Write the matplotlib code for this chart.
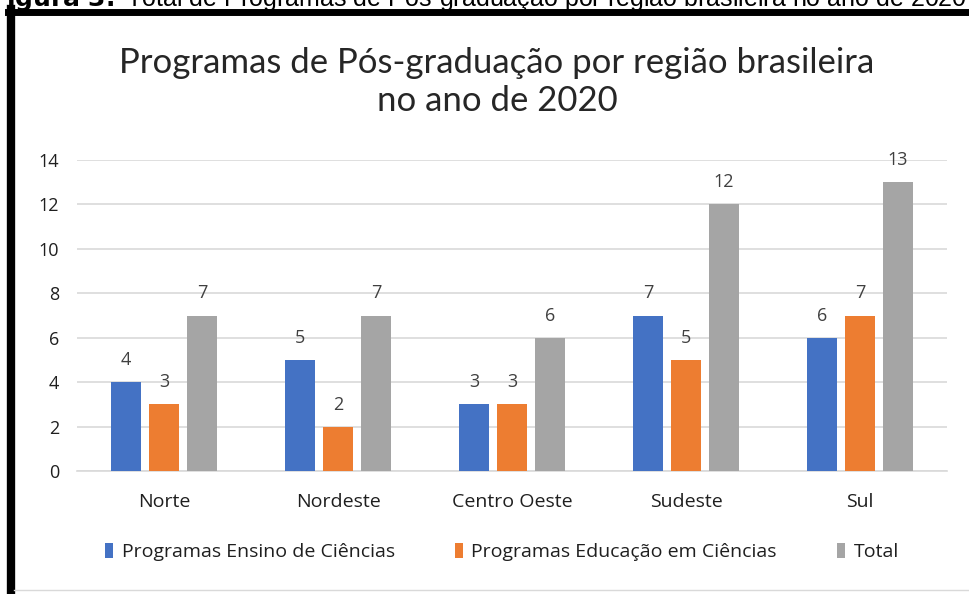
import numpy as np
import matplotlib
matplotlib.use("Agg")
import matplotlib.pyplot as plt
from matplotlib.patches import Patch

plt.rcParams['font.family'] = ['Open Sans', 'DejaVu Sans']

# Data
regions = ["Norte", "Nordeste", "Centro Oeste", "Sudeste", "Sul"]
ensino = [4, 5, 3, 7, 6]
educacao = [3, 2, 3, 5, 7]
total = [7, 7, 6, 12, 13]
series_names = ["Programas Ensino de Ciências", "Programas Educação em Ciências", "Total"]
yticks = [0, 2, 4, 6, 8, 10, 12, 14]

colors = ["#4472C4", "#ED7D31", "#A5A5A5"]
label_color = "#404040"
text_color = "#1F1F1F"

W, H = 969, 594
fig = plt.figure(figsize=(W / 100, H / 100), dpi=100)

# Axes placed in pixel coordinates
left, right, bottom, top = 77, 947, 471, 160
ax = fig.add_axes([left / W, 1 - bottom / H, (right - left) / W, (bottom - top) / H])

x = np.arange(len(regions))
width = 0.172
step = 0.218
for i, (vals, c) in enumerate(zip([ensino, educacao, total], colors)):
    pos = x + (i - 1) * step
    ax.bar(pos, vals, width=width, color=c, zorder=3)
    for px, v in zip(pos, vals):
        ax.annotate(str(v), (px, v), xytext=(0, 13), textcoords='offset pixels',
                    ha='center', va='bottom', fontsize=13, color=label_color,
                    annotation_clip=False)

ax.set_xlim(-0.5, len(regions) - 0.5)
ax.set_ylim(0, 14)
ax.set_yticks(yticks)
ax.set_xticks(x)
ax.set_xticklabels(regions, fontsize=14, color=text_color)
ax.tick_params(axis='y', labelsize=13, labelcolor=text_color, length=0, pad=13)
ax.tick_params(axis='x', length=0, pad=16)
ax.grid(axis='y', color="#D9D9D9", linewidth=1.2, zorder=0)
for s in ["top", "right", "left"]:
    ax.spines[s].set_visible(False)
ax.spines["bottom"].set_color("#D9D9D9")
ax.spines["bottom"].set_linewidth(1.2)

# Title
fig.text(497 / W, 1 - 82 / H, "Programas de Pós-graduação por região brasileira\nno ano de 2020",
         ha='center', va='center', fontsize=25, color="#262626", linespacing=1.25,
         family=['Lato', 'DejaVu Sans'])

# Legend
handles = [Patch(facecolor=c, edgecolor='none') for c in colors]
fig.legend(handles, series_names, loc='center', bbox_to_anchor=(502 / W, 1 - 552 / H),
           ncol=3, frameon=False, fontsize=14, handlelength=0.4, handleheight=0.8,
           handletextpad=0.45, columnspacing=3.1, labelcolor=text_color)

# Frame lines of the cropped figure box
fig.add_artist(plt.Line2D([11 / W, 11 / W], [0, 1 - 9 / H], color='black', linewidth=6,
                          transform=fig.transFigure))
fig.add_artist(plt.Line2D([8 / W, 1], [1 - 12 / H, 1 - 12 / H], color='black', linewidth=5,
                          transform=fig.transFigure))
fig.add_artist(plt.Line2D([14 / W, 1], [1 - 590 / H, 1 - 590 / H], color='#D9D9D9', linewidth=1,
                          transform=fig.transFigure))

# Cut-off caption above the figure box
fig.text(-11 / W, 1 - 6 / H, r"$\bf{Figura\ 3.}$ Total de Programas de Pós-graduação por região brasileira no ano de 2020",
         ha='left', va='baseline', fontsize=18, family='Liberation Sans', color='black')

fig.savefig("out.png", dpi=100)
